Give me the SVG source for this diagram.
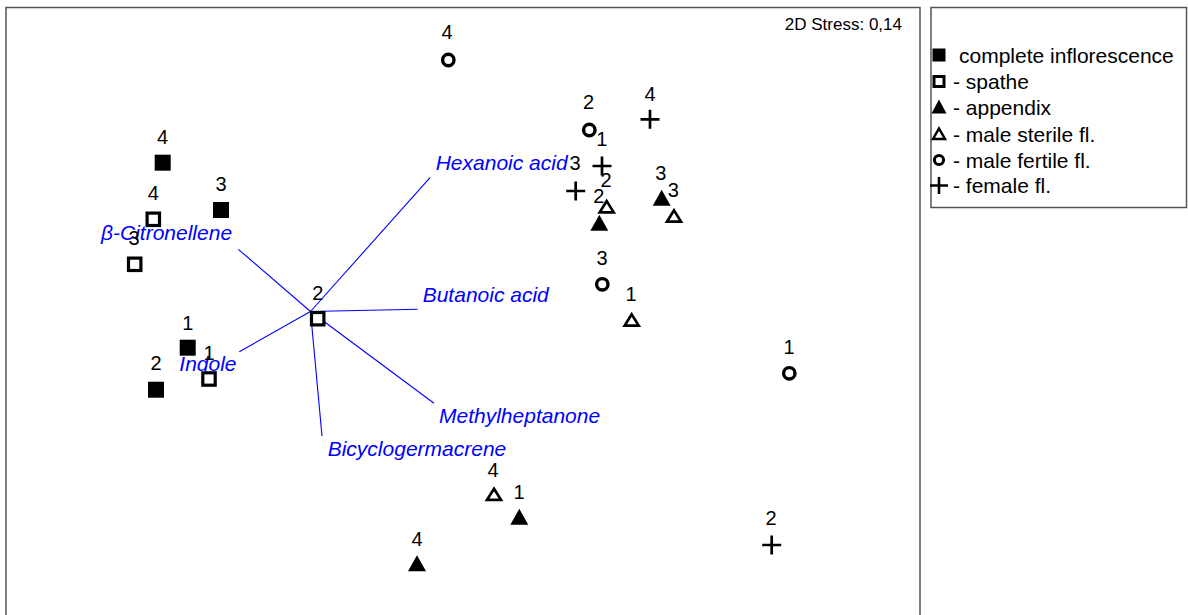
<svg xmlns="http://www.w3.org/2000/svg" xmlns:xlink="http://www.w3.org/1999/xlink" width="1188" height="615" viewBox="0 0 1188 615">
<style>
.lbl{font-family:"Liberation Sans",Arial,sans-serif;font-size:20px;fill:#000;text-anchor:middle}
.var{font-family:"Liberation Sans",Arial,sans-serif;font-size:21px;font-style:italic;fill:#0000ff}
.leg{font-family:"Liberation Sans",Arial,sans-serif;font-size:21px;fill:#000}
.stress{font-family:"Liberation Sans",Arial,sans-serif;font-size:17px;fill:#000;text-anchor:end}
.vec{stroke:#0000ff;stroke-width:1.1;fill:none}
.frame{fill:none;stroke:#555;stroke-width:1.5}
</style>
<defs>
<rect id="fsq" x="-8" y="-8" width="16" height="16" fill="#000"/>
<rect id="osq" x="-6.2" y="-6.2" width="12.4" height="12.4" fill="#fff" stroke="#000" stroke-width="3.2"/>
<path id="ftri" d="M0,-8 L9,8 L-9,8 Z" fill="#000"/>
<path id="otri" d="M0,-5.6 L7,5.6 L-7,5.6 Z" fill="#fff" stroke="#000" stroke-width="2.7"/>
<circle id="ocirc" r="5.7" fill="#fff" stroke="#000" stroke-width="3.4"/>
<path id="plus" d="M-9.5,0 H9.5 M0,-9.5 V9.5" stroke="#000" stroke-width="2.7" fill="none"/>
</defs>
<rect width="1188" height="615" fill="#fff"/>
<rect class="frame" x="6" y="7.5" width="914" height="620"/>
<rect class="frame" x="931" y="7.5" width="255.5" height="200"/>
<text class="stress" x="902" y="30">2D Stress: 0,14</text>

<g id="connectors">
<line class="vec" x1="310.5" y1="311.5" x2="430" y2="177.7"/>
<line class="vec" x1="310.5" y1="311.5" x2="238.3" y2="249.3"/>
<line class="vec" x1="310.5" y1="311.5" x2="417.7" y2="309.3"/>
<line class="vec" x1="310.5" y1="311.5" x2="239.3" y2="351.7"/>
<line class="vec" x1="310.5" y1="311.5" x2="434" y2="403.3"/>
<line class="vec" x1="310.5" y1="311.5" x2="322" y2="436"/>
</g>

<g id="variables">
<text class="var" x="435.7" y="169.5">Hexanoic acid</text>
<text class="var" x="101" y="240">β-Citronellene</text>
<text class="var" x="422.7" y="302">Butanoic acid</text>
<text class="var" x="179.3" y="371">Indole</text>
<text class="var" x="439" y="423">Methylheptanone</text>
<text class="var" x="327.7" y="456">Bicyclogermacrene</text>
</g>

<g id="n-ci4"><use xlink:href="#fsq" x="162.7" y="162.7"/><text class="lbl" x="162.5" y="143.5">4</text></g>
<g id="n-ci3"><use xlink:href="#fsq" x="221" y="210"/><text class="lbl" x="221" y="191">3</text></g>
<g id="n-ci1"><use xlink:href="#fsq" x="187.7" y="347.7"/><text class="lbl" x="187.7" y="329.5">1</text></g>
<g id="n-ci2"><use xlink:href="#fsq" x="156" y="389.7"/><text class="lbl" x="156" y="369.5">2</text></g>

<g id="n-sp4"><use xlink:href="#osq" x="153.3" y="219.3"/><text class="lbl" x="153.3" y="200">4</text></g>
<g id="n-sp3"><use xlink:href="#osq" x="134.7" y="264.3"/><text class="lbl" x="134" y="245">3</text></g>
<g id="n-sp2"><use xlink:href="#osq" x="317.7" y="318.7"/><text class="lbl" x="317.7" y="299.5">2</text></g>
<g id="n-sp1"><use xlink:href="#osq" x="209" y="379"/><text class="lbl" x="209" y="359.5">1</text></g>

<g id="n-ap2"><use xlink:href="#ftri" x="599.3" y="222.7"/><text class="lbl" x="598.7" y="203">2</text></g>
<g id="n-ap3"><use xlink:href="#ftri" x="661.7" y="197.7"/><text class="lbl" x="660.7" y="180">3</text></g>
<g id="n-ap1"><use xlink:href="#ftri" x="519.3" y="516.7"/><text class="lbl" x="519" y="498.5">1</text></g>
<g id="n-ap4"><use xlink:href="#ftri" x="417" y="563.3"/><text class="lbl" x="417" y="546">4</text></g>

<g id="n-ms2"><use xlink:href="#otri" x="606.7" y="206.7"/><text class="lbl" x="606" y="187">2</text></g>
<g id="n-ms3"><use xlink:href="#otri" x="674" y="216"/><text class="lbl" x="673.3" y="197">3</text></g>
<g id="n-ms1"><use xlink:href="#otri" x="631.7" y="320"/><text class="lbl" x="631" y="301">1</text></g>
<g id="n-ms4"><use xlink:href="#otri" x="494" y="494.3"/><text class="lbl" x="493" y="477">4</text></g>

<g id="n-mf4"><use xlink:href="#ocirc" x="448.3" y="60"/><text class="lbl" x="447" y="39">4</text></g>
<g id="n-mf2"><use xlink:href="#ocirc" x="589.3" y="130"/><text class="lbl" x="588.5" y="109.3">2</text></g>
<g id="n-mf3"><use xlink:href="#ocirc" x="602.3" y="284.3"/><text class="lbl" x="602" y="264.5">3</text></g>
<g id="n-mf1"><use xlink:href="#ocirc" x="789.3" y="373.3"/><text class="lbl" x="789" y="353.5">1</text></g>

<g id="n-ff4"><use xlink:href="#plus" x="650" y="119.3"/><text class="lbl" x="650" y="100.5">4</text></g>
<g id="n-ff1"><use xlink:href="#plus" x="602" y="166"/><text class="lbl" x="601.7" y="146">1</text></g>
<g id="n-ff3"><use xlink:href="#plus" x="575.7" y="191"/><text class="lbl" x="575" y="170">3</text></g>
<g id="n-ff2"><use xlink:href="#plus" x="771.7" y="545"/><text class="lbl" x="771" y="525">2</text></g>

<g id="legend">
<rect x="932.5" y="48.5" width="13" height="13" fill="#000"/>
<text class="leg" x="959" y="63">complete inflorescence</text>
<rect x="934" y="76.5" width="10" height="10" fill="#fff" stroke="#000" stroke-width="3"/>
<text class="leg" x="953" y="89">- spathe</text>
<path d="M939,99.5 L946.5,113.5 L931.5,113.5 Z" fill="#000"/>
<text class="leg" x="953" y="115">- appendix</text>
<path d="M939,128.5 L945,139 L933,139 Z" fill="#fff" stroke="#000" stroke-width="2.5"/>
<text class="leg" x="953" y="141.5">- male sterile fl.</text>
<circle cx="939" cy="160" r="4.6" fill="#fff" stroke="#000" stroke-width="3"/>
<text class="leg" x="953" y="168">- male fertile fl.</text>
<path d="M930,185.5 H948 M939,177 V194" stroke="#000" stroke-width="2.6" fill="none"/>
<text class="leg" x="953" y="193">- female fl.</text>
</g>
</svg>
